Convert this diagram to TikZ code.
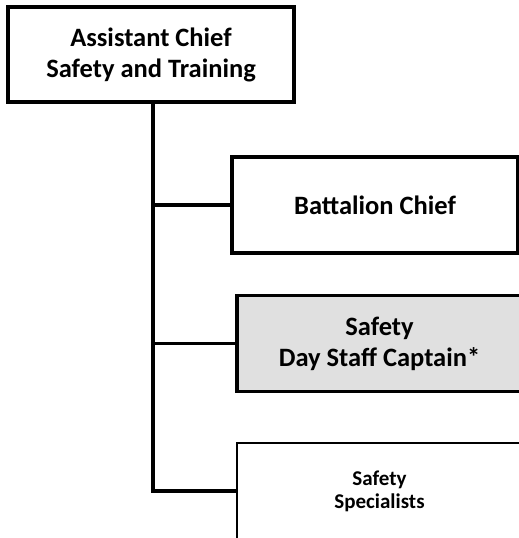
\documentclass[tikz,border=0pt]{standalone}
\usepackage{fontspec}
\setmainfont{Carlito}
\usetikzlibrary{positioning}
\begin{document}
\begin{tikzpicture}[x=1pt,y=-1pt,
  box/.style={draw,line width=3.2pt,fill=white,align=center,inner sep=0pt,
    minimum height=96pt,font=\bfseries\fontsize{26.5}{31}\selectfont},
  conn/.style={line width=3.2pt}]
\clip (0,0) rectangle (519,538);
\fill[white] (0,0) rectangle (519,538);
% boxes
\node[box,minimum width=286pt,minimum height=95pt] (chief) at (151,54.5) {Assistant Chief\\Safety and Training};
\node[box,minimum width=286pt] (batt) at (375,205) {Battalion Chief};
\node[box,minimum width=285pt,fill=gray!24] (capt) at (379.5,343.5) {Safety\\Day Staff Captain*};
\node[box,minimum width=285pt,line width=1.6pt,font=\bfseries\fontsize{21}{23}\selectfont] (spec) at (379.5,491) {Safety\\Specialists};
% connectors
\draw[conn] ([xshift=2pt]chief.south) -- ([xshift=2pt]chief.south |- spec.west) -- (spec.west);
\draw[conn] ([xshift=2pt]chief.south |- batt.west) -- (batt.west);
\draw[conn] ([xshift=2pt]chief.south |- capt.west) -- (capt.west);
\end{tikzpicture}
\end{document}
